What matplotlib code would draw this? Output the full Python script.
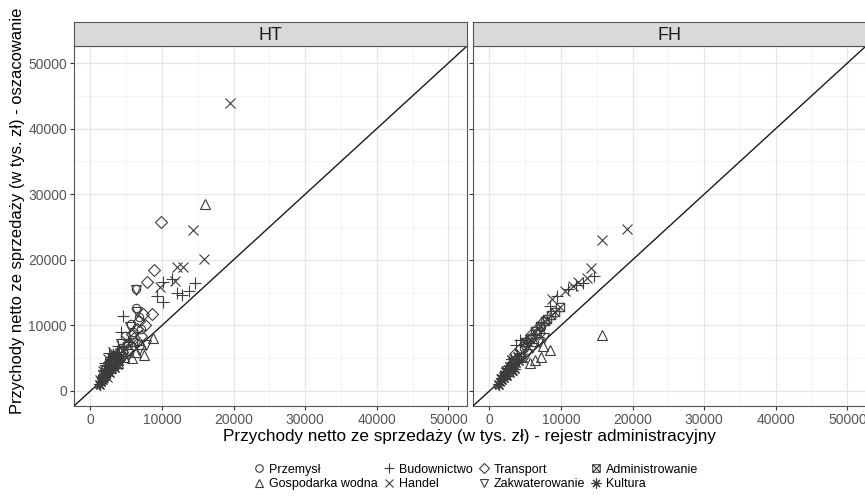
import matplotlib
matplotlib.use("Agg")
import matplotlib.pyplot as plt
from matplotlib.path import Path
from matplotlib.ticker import MultipleLocator

plt.rcParams['font.family'] = ['Liberation Sans', 'DejaVu Sans']

categories = ["Przemysł", "Gospodarka wodna", "Budownictwo", "Handel",
              "Transport", "Zakwaterowanie", "Administrowanie", "Kultura"]
panels = ["HT", "FH"]

# (rejestr, oszacowanie) in thousands of zł
ht_przemysl_x = [6300, 6300, 5600, 6800, 4800, 5200, 3600, 2500, 4200, 7100, 6000, 3000, 1900]
ht_przemysl_y = [15600, 12700, 10200, 11200, 8300, 7000, 5200, 3400, 6500, 9500, 9000, 4800, 2500]
ht_gosp_x = [16000, 8700, 7500, 6300, 5800, 4700, 3900, 7000]
ht_gosp_y = [28500, 8100, 5500, 6000, 5000, 5200, 4300, 7200]
ht_bud_x = [4600, 10200, 11400, 9300, 12100, 12800, 14600, 13700, 10200, 4300, 3800, 2600, 2000, 3200, 1600, 2200, 5300, 3500]
ht_bud_y = [11500, 16600, 17000, 14400, 14900, 14700, 16400, 15300, 13600, 9000, 6800, 5800, 4300, 5400, 2100, 3300, 7400, 4500]
ht_handel_x = [19500, 14300, 15900, 12100, 12900, 9700, 11800, 3100, 2400, 1800, 2900, 4100, 4900, 1400, 2300]
ht_handel_y = [43900, 24600, 20100, 18900, 18900, 15800, 16700, 6000, 4900, 3000, 3800, 5800, 7700, 1600, 2100]
ht_transport_x = [9900, 8900, 7900, 8600, 7300, 6800, 6500, 5800, 7600, 6100, 5100, 4400, 7000]
ht_transport_y = [25800, 18400, 16600, 11800, 11800, 10600, 9500, 8700, 10000, 8000, 6300, 5900, 8300]
ht_zakw_x = [6300, 6500, 5500, 4200, 3100, 2000, 1700, 5200, 6800, 7700]
ht_zakw_y = [15400, 12000, 9800, 7100, 4800, 3200, 2500, 5600, 6300, 7000]
ht_admin_x = [2700, 3400, 2100, 3900, 1600, 4600, 5900]
ht_admin_y = [4300, 5300, 2800, 4900, 1800, 6300, 7400]
ht_kultura_x = [1300, 1500, 1800, 2100, 2400, 2600, 2800, 3000, 3300, 3500, 3700, 1200, 1900, 2200, 2500, 4000, 4300, 3100,
                1600, 2000, 2300, 2700, 2900, 3200, 3400, 3800]
ht_kultura_y = [900, 1300, 1700, 2300, 2900, 3600, 4400, 3300, 4100, 4700, 5000, 1100, 2000, 2600, 3900, 4600, 5300, 5600,
                2000, 3100, 3800, 2800, 5200, 4600, 3500, 4000]

fh_przemysl_x = [6700, 5900, 5300, 4800, 7200, 3900, 2800, 6200]
fh_przemysl_y = [8900, 8200, 7300, 6600, 9700, 5000, 3800, 7500]
fh_gosp_x = [15700, 8500, 7200, 6300, 5600, 4600, 7500]
fh_gosp_y = [8600, 6300, 5100, 4700, 4200, 5200, 6800]
fh_bud_x = [14600, 13000, 12100, 11000, 9400, 8500, 3700, 4300, 2500, 1800, 3300, 5100, 4400]
fh_bud_y = [17600, 16500, 16200, 15600, 14400, 13000, 7000, 7700, 3500, 2000, 4200, 6800, 5300]
fh_handel_x = [19200, 15700, 14200, 13600, 12300, 11600, 10600, 8800, 3000, 2200, 4500, 1600]
fh_handel_y = [24700, 23000, 18700, 17200, 16600, 16000, 15300, 14000, 3200, 2500, 5000, 1800]
fh_transport_x = [7500, 6600, 5800, 5400, 4900, 6900, 4300, 3500]
fh_transport_y = [10500, 9500, 8500, 7800, 7000, 8800, 6400, 5600]
fh_zakw_x = [6900, 6000, 5200, 4200, 3300, 7600, 2400]
fh_zakw_y = [7500, 6500, 5600, 5000, 4300, 8000, 3100]
fh_admin_x = [9900, 9200, 8600, 8100, 7700, 7100, 6400, 5700, 4900]
fh_admin_y = [12800, 12100, 11600, 11000, 10600, 9900, 9100, 7900, 7400]
fh_kultura_x = [1300, 1500, 1700, 1900, 2100, 2300, 2600, 2800, 3100, 3400, 3700, 1200, 2000, 2500, 3000, 4100, 3600,
                1600, 2200, 2700, 3300, 3900]
fh_kultura_y = [900, 1300, 1600, 2200, 2400, 2900, 3300, 2700, 3700, 3900, 4300, 1100, 1900, 2300, 4800, 4600, 3400,
                2000, 3100, 3800, 3000, 5400]

data = {
    "HT": [(ht_przemysl_x, ht_przemysl_y), (ht_gosp_x, ht_gosp_y), (ht_bud_x, ht_bud_y),
           (ht_handel_x, ht_handel_y), (ht_transport_x, ht_transport_y), (ht_zakw_x, ht_zakw_y),
           (ht_admin_x, ht_admin_y), (ht_kultura_x, ht_kultura_y)],
    "FH": [(fh_przemysl_x, fh_przemysl_y), (fh_gosp_x, fh_gosp_y), (fh_bud_x, fh_bud_y),
           (fh_handel_x, fh_handel_y), (fh_transport_x, fh_transport_y), (fh_zakw_x, fh_zakw_y),
           (fh_admin_x, fh_admin_y), (fh_kultura_x, fh_kultura_y)],
}

# square with a cross inside (ggplot shape 7)
sq_x = Path([(-1, -1), (1, -1), (1, 1), (-1, 1), (-1, -1), (-1, -1), (1, 1), (-1, 1), (1, -1)],
            [Path.MOVETO, Path.LINETO, Path.LINETO, Path.LINETO, Path.CLOSEPOLY,
             Path.MOVETO, Path.LINETO, Path.MOVETO, Path.LINETO])
markers = ['o', '^', '+', 'x', 'D', 'v', sq_x, (8, 2, 0)]
msizes = [6, 7, 8, 7, 6, 7, 6, 8]
pt_col = '#3c3c3c'

fig = plt.figure(figsize=(8.65, 4.96), dpi=100)
lim = (-2300, 52600)
axes = []
for i, name in enumerate(panels):
    left = [74, 473][i] / 865
    ax = fig.add_axes([left, 1 - 406 / 496, 393 / 865, 360 / 496])
    axes.append(ax)
    ax.set_xlim(lim)
    ax.set_ylim(lim)
    ax.xaxis.set_major_locator(MultipleLocator(10000))
    ax.yaxis.set_major_locator(MultipleLocator(10000))
    ax.xaxis.set_minor_locator(MultipleLocator(5000))
    ax.yaxis.set_minor_locator(MultipleLocator(5000))
    ax.grid(which='major', color='#e6e6e6', lw=0.9)
    ax.grid(which='minor', color='#f2f2f2', lw=0.6)
    ax.set_axisbelow(True)
    ax.tick_params(which='minor', length=0)
    ax.tick_params(which='major', length=3, color='#333333', labelsize=10, labelcolor='#555555', pad=2)
    for s in ax.spines.values():
        s.set_color('#555555')
        s.set_linewidth(0.8)
    if i == 1:
        ax.tick_params(axis='y', labelleft=False)
    ax.axline((0, 0), (1, 1), color='#1a1a1a', lw=1.0, zorder=3)
    for k, (xs, ys) in enumerate(data[name]):
        ax.plot(xs, ys, ls='none', marker=markers[k], ms=msizes[k], mfc='none',
                mec=pt_col, mew=0.8, label=categories[k], zorder=4)
    # strip
    sax = fig.add_axes([left, 1 - 46 / 496, 393 / 865, 24 / 496])
    sax.set_facecolor('#d9d9d9')
    sax.set_xticks([])
    sax.set_yticks([])
    for s in sax.spines.values():
        s.set_color('#555555')
        s.set_linewidth(0.8)
    sax.text(0.5, 0.45, name, ha='center', va='center', fontsize=13, color='#1a1a1a',
             transform=sax.transAxes)

fig.text(470 / 865, 1 - 437 / 496, "Przychody netto ze sprzedaży (w tys. zł) - rejestr administracyjny",
         ha='center', va='center', fontsize=12.3)
fig.text(18 / 865, 1 - 211 / 496, "Przychody netto ze sprzedaży (w tys. zł) - oszacowanie",
         ha='center', va='center', rotation=90, fontsize=11.9)

handles, labels = axes[0].get_legend_handles_labels()
fig.legend(handles, labels, ncol=4, loc='center', bbox_to_anchor=(475 / 865, 1 - 477 / 496),
           frameon=False, fontsize=9, handletextpad=0.2, columnspacing=0.3,
           labelspacing=0.2, handlelength=1.2, markerscale=0.9)

fig.savefig("out.png", dpi=100)
